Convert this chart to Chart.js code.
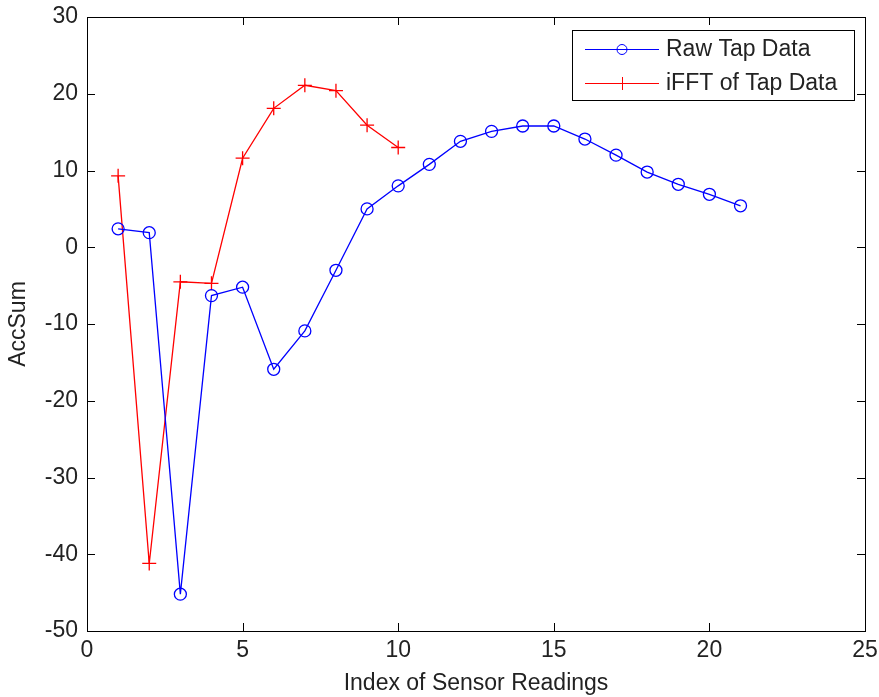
<!DOCTYPE html>
<html>
<head>
<meta charset="utf-8">
<script src="https://cdn.jsdelivr.net/npm/chart.js@4"></script>
<style>
  html, body { margin: 0; padding: 0; background: #fff; }
  #wrap { width: 879px; height: 697px; }
</style>
</head>
<body>
<div id="wrap"><canvas id="tapChart"></canvas></div>
<script>
const rawIdx = [1, 2, 3, 4, 5, 6, 7, 8, 9, 10, 11, 12, 13, 14, 15, 16, 17, 18, 19, 20, 21];
const rawVals = [2.4, 1.9, -45.2, -6.3, -5.2, -15.9, -10.9, -3, 5, 8, 10.8, 13.8, 15.1, 15.8, 15.8, 14.1, 12, 9.8, 8.2, 6.9, 5.4];
const fftIdx = [1, 2, 3, 4, 5, 6, 7, 8, 9, 10];
const fftVals = [9.3, -41.2, -4.5, -4.7, 11.6, 18.1, 21.1, 20.4, 15.9, 13];
const xTicks = [0, 5, 10, 15, 20, 25];
const yTicks = [-50, -40, -30, -20, -10, 0, 10, 20, 30];

const font = "'Liberation Sans', Arial, sans-serif";
const ctx = document.getElementById('tapChart').getContext('2d');

// matlab style box with inward ticks and legend inside the axes
const boxPlugin = {
    id: 'boxPlugin',
    afterDraw(chart) {
        const c = chart.ctx;
        const a = chart.chartArea;
        const xs = chart.scales.x, ys = chart.scales.y;
        c.save();
        c.strokeStyle = '#000';
        c.lineWidth = 1;
        c.strokeRect(a.left + 0.5, a.top + 0.5, a.right - a.left, a.bottom - a.top);
        c.beginPath();
        xTicks.forEach(v => {
            const px = Math.round(xs.getPixelForValue(v)) + 0.5;
            c.moveTo(px, a.bottom); c.lineTo(px, a.bottom - 8);
            c.moveTo(px, a.top); c.lineTo(px, a.top + 8);
        });
        yTicks.forEach(v => {
            const py = Math.round(ys.getPixelForValue(v)) + 0.5;
            c.moveTo(a.left, py); c.lineTo(a.left + 8, py);
            c.moveTo(a.right, py); c.lineTo(a.right - 8, py);
        });
        c.stroke();

        // legend
        const lx = 572, ly = 30, lw = 282, lh = 70;
        c.fillStyle = '#fff';
        c.fillRect(lx, ly, lw, lh);
        c.strokeRect(lx + 0.5, ly + 0.5, lw, lh);
        const rows = [
            { text: 'Raw Tap Data', color: '#0000ff', y: ly + 19, mark: 'circle' },
            { text: 'iFFT of Tap Data', color: '#ff0000', y: ly + 53, mark: 'cross' }
        ];
        c.font = '23px ' + font;
        c.textBaseline = 'middle';
        rows.forEach(r => {
            c.strokeStyle = r.color;
            c.beginPath();
            c.moveTo(lx + 13, r.y + 0.5); c.lineTo(lx + 87, r.y + 0.5);
            c.stroke();
            c.beginPath();
            if (r.mark === 'circle') {
                c.arc(lx + 50, r.y + 0.5, 5, 0, Math.PI * 2);
            } else {
                c.moveTo(lx + 50.5, r.y - 6); c.lineTo(lx + 50.5, r.y + 7);
            }
            c.stroke();
            c.fillStyle = '#222';
            c.fillText(r.text, lx + 94, r.y + 1);
        });
        c.restore();
    }
};

new Chart(ctx, {
    type: 'scatter',
    data: {
        datasets: [{
            label: 'Raw Tap Data',
            data: rawIdx.map((x, i) => ({ x: x, y: rawVals[i] })),
            showLine: true,
            borderColor: '#0000ff',
            borderWidth: 1.3,
            pointStyle: 'circle',
            pointRadius: 6,
            pointBorderColor: '#0000ff',
            pointBackgroundColor: 'rgba(0,0,0,0)',
            pointBorderWidth: 1.3
        }, {
            label: 'iFFT of Tap Data',
            data: fftIdx.map((x, i) => ({ x: x, y: fftVals[i] })),
            showLine: true,
            borderColor: '#ff0000',
            borderWidth: 1.3,
            pointStyle: 'cross',
            pointRadius: 7,
            pointBorderColor: '#ff0000',
            pointBorderWidth: 1.3
        }]
    },
    options: {
        responsive: true,
        maintainAspectRatio: false,
        animation: false,
        layout: { padding: { left: 0, right: 14, top: 17, bottom: 0 } },
        plugins: {
            legend: { display: false },
            tooltip: { enabled: false }
        },
        scales: {
            x: {
                type: 'linear',
                min: 0, max: 25,
                afterBuildTicks: s => { s.ticks = xTicks.map(v => ({ value: v })); },
                afterFit: s => { s.height = 66; s.paddingLeft = 0; s.paddingRight = 0; },
                grid: { display: false, drawTicks: false },
                border: { display: false },
                ticks: { color: '#222', font: { family: font, size: 23 }, padding: 6, maxRotation: 0 },
                title: { display: true, text: 'Index of Sensor Readings', color: '#222',
                         font: { family: font, size: 23 }, padding: { top: 0, bottom: 0 } }
            },
            y: {
                type: 'linear',
                min: -50, max: 30,
                afterBuildTicks: s => { s.ticks = yTicks.map(v => ({ value: v })); },
                afterFit: s => { s.width = 87; s.paddingTop = 0; s.paddingBottom = 0; },
                grid: { display: false, drawTicks: false },
                border: { display: false },
                ticks: { color: '#222', font: { family: font, size: 23 }, padding: 9 },
                title: { display: true, text: 'AccSum', color: '#222',
                         font: { family: font, size: 23 }, padding: { top: 5, bottom: 0 } }
            }
        }
    },
    plugins: [boxPlugin]
});
</script>
</body>
</html>
